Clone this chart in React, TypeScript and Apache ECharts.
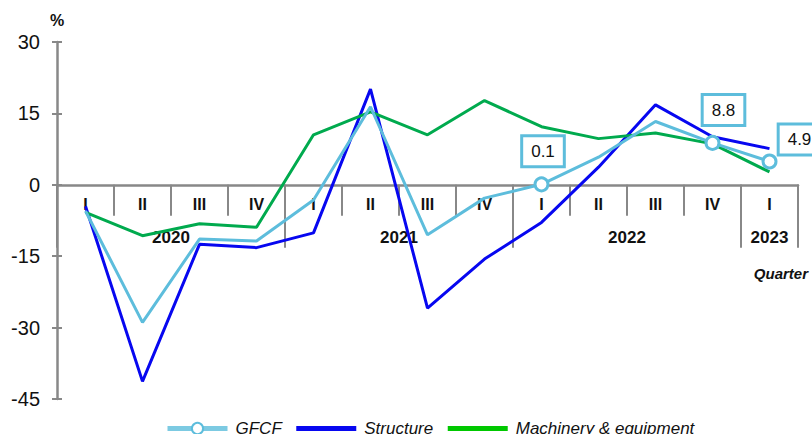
import React, { useEffect, useRef } from "react";
import * as echarts from "echarts";

const quarters = ["I", "II", "III", "IV", "I", "II", "III", "IV", "I", "II", "III", "IV", "I"];
const years = ["2020", "2021", "2022", "2023"];
const yearSpans = [4, 4, 4, 1];

const gfcf = [-5.5, -28.9, -11.4, -11.8, -3.2, 16.4, -10.5, -2.8, 0.1, 5.8, 13.3, 8.8, 4.9];
const structure = [-4.5, -41.3, -12.5, -13.2, -10.1, 20.1, -25.9, -15.6, -7.9, 3.7, 16.8, 10.1, 7.6];
const machinery = [-5.8, -10.7, -8.2, -8.9, 10.5, 15.3, 10.5, 17.7, 12.2, 9.7, 10.9, 8.6, 2.7];
const labeledGfcf = [8, 11, 12];

const yTicks = { min: -45, max: 30, interval: 15 };

const FONT = "Arial, 'Liberation Sans', sans-serif";
const GFCF_COLOR = "#5DBDDC";
const STRUCT_COLOR = "#0707F0";
const MACH_COLOR = "#00AA4E";
const AXIS_COLOR = "#888888";

const W = 812;
const H = 434;
const GRID = { left: 57, right: 14, top: 42, bottom: 35 };

// label box offsets (style only), keyed by point index
const labelOffsets: Record<number, number[]> = { 8: [1.5, 0], 11: [11, 0], 12: [30, 11] };

export default function App() {
  const ref = useRef<HTMLDivElement>(null);

  useEffect(() => {
    if (!ref.current) return;
    const chart = echarts.init(ref.current, null, { renderer: "svg" });

    const gridH = H - GRID.top - GRID.bottom;
    const zeroOffset = -(gridH * (0 - yTicks.min)) / (yTicks.max - yTicks.min);

    const yearStarts: number[] = [];
    const yearLabelIdx: number[] = [];
    const yearLabelText: Record<number, string> = {};
    const yearLabelShift: Record<number, boolean> = {};
    let acc = 0;
    years.forEach((y, k) => {
      yearStarts.push(acc);
      const span = yearSpans[k];
      const idx = acc + Math.floor((span - 1) / 2);
      yearLabelIdx.push(idx);
      yearLabelText[idx] = y;
      yearLabelShift[idx] = (span - 1) % 2 === 1;
      acc += span;
    });
    const band = (W - GRID.left - GRID.right) / quarters.length;

    const gfcfData = gfcf.map((v, i) => {
      if (labeledGfcf.includes(i)) {
        return {
          value: v,
          symbol: "circle",
          symbolSize: 13,
          itemStyle: { color: "#ffffff", borderColor: GFCF_COLOR, borderWidth: 3 },
          label: {
            show: true,
            position: "top",
            distance: 11,
            offset: labelOffsets[i] || [0, 0],
            formatter: (p: any) => Number(p.value).toFixed(1),
            fontSize: 17,
            fontFamily: FONT,
            color: "#111",
            backgroundColor: "#ffffff",
            borderColor: GFCF_COLOR,
            borderWidth: 3,
            padding: [6, 8, 5, 8],
          },
        };
      }
      return { value: v, symbol: "none" };
    });

    const option: any = {
      animation: false,
      textStyle: { fontFamily: FONT },
      grid: { ...GRID, containLabel: false, outerBoundsMode: "none" },
      legend: {
        left: 160,
        top: 415,
        itemWidth: 60,
        itemHeight: 14,
        itemGap: 12,
        textStyle: { fontSize: 17, fontStyle: "italic", color: "#111", fontFamily: FONT, padding: [0, 0, 0, 3] },
        lineStyle: { width: 5 },
        data: [
          { name: "GFCF", lineStyle: { color: "#7CCAE2", width: 5 } },
          { name: "Structure", itemStyle: { opacity: 0 } },
          { name: "Machinery & equipment", lineStyle: { color: "#00C800", width: 5 }, itemStyle: { opacity: 0 } },
        ],
      },
      xAxis: [
        {
          type: "category",
          data: quarters,
          position: "bottom",
          offset: zeroOffset,
          boundaryGap: true,
          axisLine: { onZero: false, lineStyle: { color: AXIS_COLOR, width: 2.5 } },
          axisTick: { show: true, interval: 0, length: 31, lineStyle: { color: AXIS_COLOR, width: 2 } },
          axisLabel: { interval: 0, margin: 12, fontSize: 16, fontWeight: "bold", color: "#111", fontFamily: FONT },
          splitLine: { show: false },
        },
        {
          type: "category",
          data: quarters,
          position: "bottom",
          offset: zeroOffset,
          boundaryGap: true,
          axisLine: { show: false, onZero: false },
          axisTick: {
            show: true,
            interval: (i: number) => yearStarts.includes(i),
            length: 63,
            lineStyle: { color: AXIS_COLOR, width: 2 },
          },
          axisLabel: {
            interval: (i: number) => yearLabelIdx.includes(i),
            margin: 44,
            formatter: (_v: string, i: number) =>
              yearLabelShift[i] ? `{s|${yearLabelText[i]}}` : `{n|${yearLabelText[i]}}`,
            rich: {
              s: { fontSize: 17, fontWeight: "bold", color: "#111", fontFamily: FONT, padding: [0, 0, 0, band] },
              n: { fontSize: 17, fontWeight: "bold", color: "#111", fontFamily: FONT },
            },
          },
          splitLine: { show: false },
        },
      ],
      yAxis: [
        {
          type: "value",
          ...yTicks,
          name: "%",
          nameLocation: "end",
          nameGap: 14,
          nameTextStyle: { fontSize: 16, fontWeight: "bold", color: "#111", fontFamily: FONT },
          axisLine: { show: true, onZero: false, lineStyle: { color: AXIS_COLOR, width: 2.5 } },
          axisTick: { show: true, length: 5, lineStyle: { color: AXIS_COLOR, width: 2 } },
          axisLabel: { margin: 17, fontSize: 20, color: "#111", fontFamily: FONT },
          splitLine: { show: false },
        },
        {
          type: "value",
          ...yTicks,
          position: "left",
          axisLine: { show: false, onZero: false },
          axisTick: { show: true, inside: true, length: 5, lineStyle: { color: AXIS_COLOR, width: 2 } },
          axisLabel: { show: false },
          splitLine: { show: false },
        },
      ],
      graphic: [
        {
          type: "text",
          right: 4,
          top: 266,
          style: { text: "Quarter", font: `italic bold 15px ${FONT}`, fill: "#111" },
        },
      ],
      series: [
        {
          name: "GFCF",
          type: "line",
          data: gfcfData,
          symbol: "emptyCircle",
          symbolSize: 10,
          showSymbol: true,
          lineStyle: { color: GFCF_COLOR, width: 3 },
          itemStyle: { color: GFCF_COLOR },
          z: 3,
        },
        {
          name: "Structure",
          type: "line",
          data: structure,
          symbol: "none",
          lineStyle: { color: STRUCT_COLOR, width: 3 },
          itemStyle: { color: STRUCT_COLOR },
          z: 2,
        },
        {
          name: "Machinery & equipment",
          type: "line",
          data: machinery,
          symbol: "none",
          lineStyle: { color: MACH_COLOR, width: 3 },
          itemStyle: { color: MACH_COLOR },
          z: 2,
        },
      ],
    };

    chart.setOption(option);
    return () => chart.dispose();
  }, []);

  return (
    <div
      ref={ref}
      style={{ position: "fixed", left: 0, top: 0, width: W, height: H, background: "#fff" }}
    />
  );
}
